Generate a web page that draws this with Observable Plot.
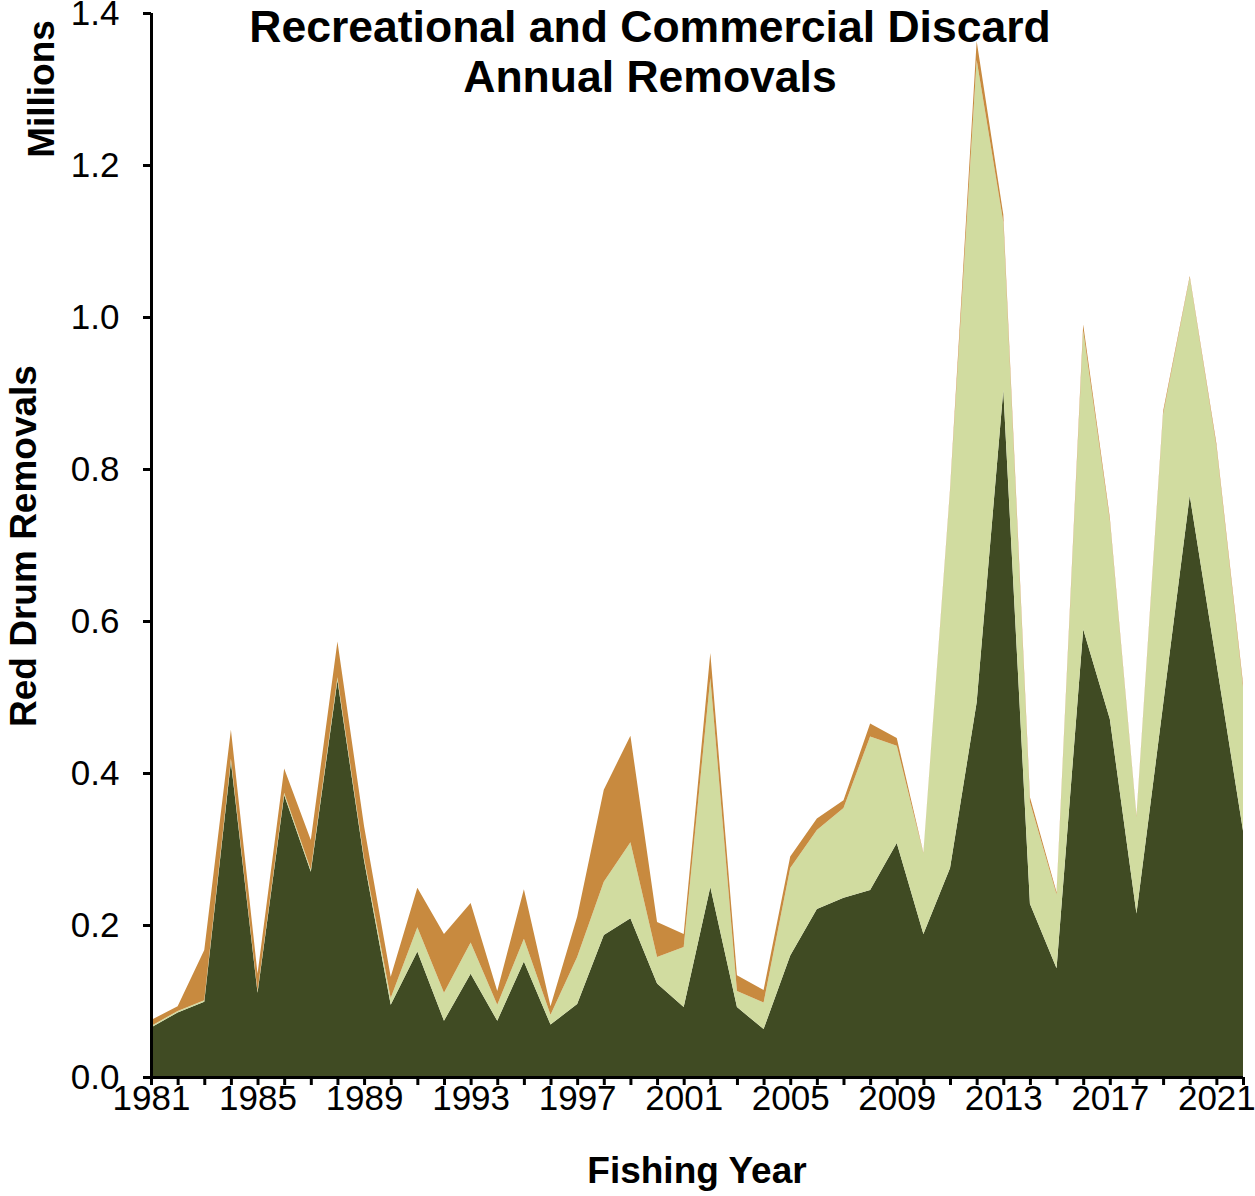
<!DOCTYPE html>
<html>
<head>
<meta charset="utf-8">
<script src="https://cdn.jsdelivr.net/npm/d3@7"></script>
<script src="https://cdn.jsdelivr.net/npm/@observablehq/plot@0.6"></script>
<style>
  html, body { margin: 0; padding: 0; background: #fff; }
  #chart { width: 1255px; height: 1196px; }
</style>
</head>
<body>
<div id="chart"></div>
<script>
// ---- Data (millions of fish) ----
const years = [1981,1982,1983,1984,1985,1986,1987,1988,1989,1990,1991,1992,1993,1994,1995,1996,1997,1998,1999,2000,2001,2002,2003,2004,2005,2006,2007,2008,2009,2010,2011,2012,2013,2014,2015,2016,2017,2018,2019,2020,2021,2022];

const seriesNames = ["Recreational Harvest", "Recreational Discards", "Commercial"];

const recHarvest = [0.065,0.085,0.099,0.415,0.111,0.371,0.270,0.522,0.285,0.095,0.165,0.074,0.136,0.074,0.152,0.069,0.096,0.187,0.209,0.123,0.092,0.250,0.092,0.063,0.160,0.221,0.236,0.246,0.308,0.188,0.275,0.493,0.904,0.228,0.143,0.589,0.471,0.215,0.490,0.765,0.545,0.324];

const recDiscards = [0.002,0.002,0.002,0.004,0.002,0.003,0.003,0.004,0.003,0.009,0.032,0.037,0.041,0.021,0.030,0.013,0.062,0.070,0.100,0.035,0.079,0.275,0.021,0.035,0.115,0.104,0.118,0.202,0.128,0.106,0.495,0.845,0.221,0.134,0.097,0.393,0.261,0.127,0.382,0.287,0.285,0.189];

const commercial = [0.008,0.006,0.066,0.038,0.023,0.032,0.039,0.047,0.042,0.028,0.052,0.077,0.052,0.018,0.065,0.011,0.053,0.121,0.140,0.046,0.017,0.033,0.021,0.0165,0.015,0.015,0.010,0.017,0.010,0.001,0.003,0.025,0.010,0.006,0.003,0.008,0.004,0.002,0.004,0.002,0.004,0.005];

const yTicks = [0, 0.2, 0.4, 0.6, 0.8, 1.0, 1.2, 1.4];
const xLabelYears = [1981,1985,1989,1993,1997,2001,2005,2009,2013,2017,2021];

const titleLines = ["Recreational and Commercial Discard", "Annual Removals"];
const xTitle = "Fishing Year";
const yTitle = "Red Drum Removals";
const unitTitle = "Millions";

const colors = ["#404b23", "#d1dca0", "#c88a3f"];

// ---- Build long table ----
const seriesValues = [recHarvest, recDiscards, commercial];
const data = [];
seriesNames.forEach((name, si) => {
  years.forEach((yr, i) => {
    data.push({year: yr, series: name, value: seriesValues[si][i]});
  });
});

const font = "'Liberation Sans', Arial, sans-serif";

const chart = Plot.plot({
  width: 1255,
  height: 1196,
  marginLeft: 151,
  marginRight: 12,
  marginTop: 13,
  marginBottom: 119,
  style: {fontFamily: font, background: "#fff", color: "#000", overflow: "visible"},
  x: {type: "linear", domain: [1981, 2022]},
  y: {domain: [0, 1.4]},
  color: {domain: seriesNames, range: colors},
  marks: [
    Plot.areaY(data, Plot.stackY({
      x: "year", y: "value", fill: "series", order: seriesNames
    })),
    Plot.axisX({ticks: years, tickFormat: () => "", tickSize: 8, strokeWidth: 3, label: null}),
    Plot.axisX({ticks: xLabelYears, tickFormat: d => String(d), tickSize: 0, tickPadding: 8, fontSize: 35, label: null}),
    Plot.axisY({ticks: yTicks, tickFormat: d => d.toFixed(1), tickSize: 8, tickPadding: 24, strokeWidth: 3, fontSize: 35, label: null}),
    Plot.ruleX([1981], {stroke: "#000", strokeWidth: 3}),
    Plot.ruleY([0], {stroke: "#000", strokeWidth: 3})
  ]
});

document.getElementById("chart").appendChild(chart);

const svg = d3.select(chart);
const t = svg.append("g").attr("font-family", font).attr("font-weight", "bold").attr("fill", "#000");
t.append("text").attr("x", 650).attr("y", 42).attr("text-anchor", "middle").attr("font-size", 44.5).text(titleLines[0]);
t.append("text").attr("x", 650).attr("y", 92).attr("text-anchor", "middle").attr("font-size", 44.5).text(titleLines[1]);
t.append("text").attr("x", 697).attr("y", 1183).attr("text-anchor", "middle").attr("font-size", 37).text(xTitle);
t.append("text").attr("transform", "translate(36,546) rotate(-90)").attr("text-anchor", "middle").attr("font-size", 37).text(yTitle);
t.append("text").attr("transform", "translate(54,89) rotate(-90)").attr("text-anchor", "middle").attr("font-size", 37).text(unitTitle);
</script>
</body>
</html>
